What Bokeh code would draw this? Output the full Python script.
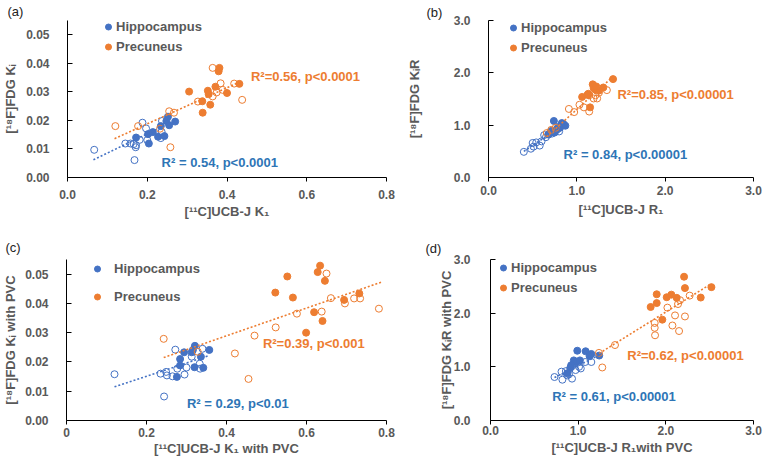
from bokeh.plotting import figure
from bokeh.layouts import column, row
from bokeh.models import Range1d, FixedTicker, Label, Legend, LegendItem
from bokeh.embed import file_html
from bokeh.resources import INLINE

FONT = "Liberation Sans"
BLUE = "#4472C4"
ORANGE = "#ED7D31"
BLUE_TXT = "#2E75B6"
ORANGE_TXT = "#ED7D31"
GRAY = "#595959"

# ---------------- data ----------------
# (a) K1 vs Ki
a_hip_fill_x = [0.172, 0.202, 0.204, 0.214, 0.227, 0.234, 0.243, 0.248, 0.252, 0.255, 0.270]
a_hip_fill_y = [0.0140, 0.0152, 0.0119, 0.0159, 0.0143, 0.0180, 0.0145, 0.0198, 0.0213, 0.0183, 0.0196]
a_hip_open_x = [0.067, 0.145, 0.158, 0.166, 0.171, 0.168, 0.172, 0.181, 0.188, 0.197, 0.200, 0.234, 0.236, 0.237]
a_hip_open_y = [0.0097, 0.0119, 0.0119, 0.0117, 0.0106, 0.0061, 0.0113, 0.0132, 0.0192, 0.0172, 0.0131, 0.0138, 0.0160, 0.0198]
a_pre_fill_x = [0.305, 0.338, 0.339, 0.352, 0.354, 0.358, 0.371, 0.379, 0.381, 0.400, 0.431]
a_pre_fill_y = [0.0301, 0.0267, 0.0227, 0.0304, 0.0292, 0.0255, 0.0318, 0.0372, 0.0384, 0.0296, 0.0328]
a_pre_open_x = [0.120, 0.177, 0.232, 0.255, 0.258, 0.267, 0.327, 0.364, 0.364, 0.374, 0.384, 0.389, 0.418, 0.438]
a_pre_open_y = [0.0180, 0.0180, 0.0171, 0.0232, 0.0106, 0.0227, 0.0266, 0.0384, 0.0284, 0.0298, 0.0330, 0.0307, 0.0329, 0.0272]
a_hip_trend_x = [0.065, 0.270]
a_hip_trend_y = [0.0062, 0.0200]
a_pre_trend_x = [0.118, 0.437]
a_pre_trend_y = [0.0136, 0.0338]

# (b) R1 vs KiR
b_hip_fill_x = [0.74, 0.87, 0.83, 0.81, 0.71, 0.78, 0.74, 0.68, 0.85, 0.76, 0.80]
b_hip_fill_y = [1.08, 0.99, 1.04, 0.95, 0.89, 0.94, 0.86, 0.82, 1.02, 0.90, 0.97]
b_hip_open_x = [0.40, 0.48, 0.51, 0.50, 0.54, 0.58, 0.60, 0.63, 0.65, 0.68, 0.80, 0.75, 0.72, 0.78]
b_hip_open_y = [0.49, 0.55, 0.59, 0.66, 0.67, 0.61, 0.69, 0.81, 0.77, 0.83, 0.88, 0.86, 0.84, 0.92]
b_pre_fill_x = [1.41, 1.30, 1.18, 1.21, 1.25, 1.06, 1.13, 1.15, 1.19, 1.22, 1.12]
b_pre_fill_y = [1.88, 1.72, 1.78, 1.68, 1.66, 1.54, 1.60, 1.34, 1.71, 1.74, 1.58]
b_pre_open_x = [0.91, 0.97, 1.03, 1.08, 1.14, 1.14, 1.19, 1.23, 1.21, 1.34, 1.25, 0.71, 0.76, 0.66]
b_pre_open_y = [1.31, 1.25, 1.39, 1.34, 1.26, 1.57, 1.51, 1.51, 1.57, 1.67, 1.62, 0.91, 0.95, 0.85]
b_hip_trend_x = [0.40, 0.87]
b_hip_trend_y = [0.50, 1.03]
b_pre_trend_x = [0.66, 1.41]
b_pre_trend_y = [0.78, 1.93]

# (c) K1 vs Ki with PVC
c_hip_fill_x = [0.276, 0.284, 0.284, 0.294, 0.313, 0.320, 0.321, 0.316, 0.336, 0.342, 0.357]
c_hip_fill_y = [0.0149, 0.0188, 0.0210, 0.0233, 0.0233, 0.0182, 0.0255, 0.0241, 0.0218, 0.0180, 0.0241]
c_hip_open_x = [0.120, 0.235, 0.244, 0.249, 0.251, 0.265, 0.272, 0.277, 0.295, 0.300, 0.313, 0.333, 0.334, 0.340]
c_hip_open_y = [0.0158, 0.0160, 0.0082, 0.0166, 0.0154, 0.0151, 0.0242, 0.0177, 0.0157, 0.0181, 0.0218, 0.0194, 0.0177, 0.0245]
c_pre_fill_x = [0.522, 0.552, 0.566, 0.599, 0.619, 0.628, 0.634, 0.640, 0.646, 0.694, 0.732]
c_pre_fill_y = [0.0437, 0.0492, 0.0420, 0.0300, 0.0370, 0.0507, 0.0529, 0.0340, 0.0477, 0.0412, 0.0434]
c_pre_open_x = [0.243, 0.328, 0.421, 0.455, 0.470, 0.523, 0.576, 0.638, 0.650, 0.661, 0.696, 0.719, 0.734, 0.781]
c_pre_open_y = [0.0279, 0.0235, 0.0229, 0.0142, 0.0290, 0.0318, 0.0365, 0.0372, 0.0502, 0.0418, 0.0400, 0.0417, 0.0417, 0.0382]
c_hip_trend_x = [0.120, 0.357]
c_hip_trend_y = [0.0115, 0.0222]
c_pre_trend_x = [0.243, 0.790]
c_pre_trend_y = [0.0215, 0.0474]

# (d) R1 vs KiR with PVC
d_hip_fill_x = [0.99, 1.085, 1.13, 1.15, 1.24, 0.95, 0.98, 1.02, 0.92, 0.91, 0.875]
d_hip_fill_y = [1.30, 1.29, 1.20, 1.24, 1.21, 1.12, 1.09, 1.12, 1.03, 0.98, 0.88]
d_hip_open_x = [0.73, 0.82, 0.81, 0.86, 0.895, 0.93, 0.97, 1.01, 1.08, 1.15, 0.875, 1.03, 0.93, 0.96]
d_hip_open_y = [0.81, 0.76, 0.91, 0.92, 0.86, 0.78, 0.94, 1.00, 1.09, 1.09, 0.84, 0.97, 1.01, 1.06]
d_pre_fill_x = [1.827, 1.896, 1.896, 1.960, 2.010, 2.063, 2.124, 2.208, 2.218, 2.398, 2.520]
d_pre_fill_y = [2.115, 2.188, 2.352, 1.879, 2.297, 2.345, 2.285, 2.679, 2.467, 2.291, 2.485]
d_pre_open_x = [1.873, 1.873, 1.877, 2.018, 2.075, 2.105, 2.151, 2.218, 2.139, 2.162, 2.272, 1.420, 1.237, 1.275]
d_pre_open_y = [1.818, 1.727, 1.588, 2.103, 1.770, 1.958, 1.667, 1.939, 2.170, 2.242, 2.327, 1.406, 1.260, 0.988]
d_hip_trend_x = [0.73, 1.24]
d_hip_trend_y = [0.80, 1.22]
d_pre_trend_x = [1.24, 2.52]
d_pre_trend_y = [1.25, 2.55]

# ticks
k_x_ticks = [0.0, 0.2, 0.4, 0.6, 0.8]
a_x_labels = ["0.0", "0.2", "0.4", "0.6", "0.8"]
c_x_labels = ["0", "0.2", "0.4", "0.6", "0.8"]
k_y_ticks = [0.0, 0.01, 0.02, 0.03, 0.04, 0.05]
k_y_labels = ["0.00", "0.01", "0.02", "0.03", "0.04", "0.05"]
r_ticks = [0.0, 1.0, 2.0, 3.0]
r_labels = ["0.0", "1.0", "2.0", "3.0"]

legend_labels = ["Hippocampus", "Precuneus"]
panel_tags = ["(a)", "(b)", "(c)", "(d)"]

# axis titles
a_xlabel = "[¹¹C]UCB-J K₁"
a_ylabel = "[¹⁸F]FDG Kᵢ"
b_xlabel = "[¹¹C]UCB-J R₁"
b_ylabel = "[¹⁸F]FDG KᵢR"
c_xlabel = "[¹¹C]UCB-J K₁ with PVC"
c_ylabel = "[¹⁸F]FDG Kᵢ with PVC"
d_xlabel = "[¹¹C]UCB-J R₁with PVC"
d_ylabel = "[¹⁸F]FDG KᵢR with PVC"

a_stats = ["R² = 0.54, p<0.0001", "R²=0.56, p<0.0001"]
b_stats = ["R² = 0.84, p<0.00001", "R²=0.85, p<0.00001"]
c_stats = ["R² = 0.29, p<0.01", "R²=0.39, p<0.001"]
d_stats = ["R² = 0.61, p<0.00001", "R²=0.62, p<0.00001"]


def make_panel(width, height, borders, xr, yr, xticks, xlabels, yticks, ylabels,
               xlabel, ylabel, x_std, x_title_std, y_std, y_title_std,
               tag, tag_offset, tag_standoff):
    bl, br, bt, bb = borders
    p = figure(width=width, height=height, x_range=Range1d(*xr), y_range=Range1d(*yr),
               output_backend="svg", toolbar_location=None,
               min_border_left=bl, min_border_right=br, min_border_top=bt, min_border_bottom=bb)
    p.outline_line_color = None
    p.xgrid.visible = False
    p.ygrid.visible = False
    p.background_fill_color = None
    p.border_fill_color = None
    p.title.text = tag
    p.title.align = "left"
    p.title.offset = tag_offset
    p.title.standoff = tag_standoff
    p.title.text_font = FONT
    p.title.text_font_size = "13px"
    p.title.text_font_style = "normal"
    p.title.text_color = "#222222"
    for ax, ticks, labels in ((p.xaxis[0], xticks, xlabels), (p.yaxis[0], yticks, ylabels)):
        ax.ticker = FixedTicker(ticks=ticks)
        ax.major_label_overrides = {t: l for t, l in zip(ticks, labels)}
        ax.minor_tick_line_color = None
        ax.axis_line_color = "black"
        ax.major_tick_line_color = "black"
        ax.major_label_text_font = FONT
        ax.major_label_text_font_size = "12px"
        ax.major_label_text_font_style = "bold"
        ax.major_label_text_color = GRAY
        ax.axis_label_text_font = FONT
        ax.axis_label_text_font_size = "13px"
        ax.axis_label_text_font_style = "bold"
        ax.axis_label_text_color = GRAY
    p.xaxis.major_tick_out = 4
    p.xaxis.major_tick_in = 0
    p.yaxis.major_tick_out = 0
    p.yaxis.major_tick_in = 5
    p.xaxis.axis_label = xlabel
    p.yaxis.axis_label = ylabel
    p.xaxis.major_label_standoff = x_std
    p.xaxis.axis_label_standoff = x_title_std
    p.yaxis.major_label_standoff = y_std
    p.yaxis.axis_label_standoff = y_title_std
    return p


def add_series(p, hf, ho, pf, po, ht, pt):
    rh = p.scatter(hf[0], hf[1], size=7, marker="circle", fill_color=BLUE, line_color=BLUE)
    p.scatter(ho[0], ho[1], size=7, marker="circle", fill_color=None, line_color=BLUE, line_width=1)
    rp = p.scatter(pf[0], pf[1], size=7, marker="circle", fill_color=ORANGE, line_color=ORANGE)
    p.scatter(po[0], po[1], size=7, marker="circle", fill_color=None, line_color=ORANGE, line_width=1)
    p.line(ht[0], ht[1], line_color=BLUE, line_width=1.6, line_dash="2 2")
    p.line(pt[0], pt[1], line_color=ORANGE, line_width=1.6, line_dash="2 2")
    return rh, rp


def add_legend(p, rh, rp, loc, spacing, standoff):
    leg = Legend(items=[LegendItem(label=legend_labels[0], renderers=[rh]),
                        LegendItem(label=legend_labels[1], renderers=[rp])],
                 location=loc, orientation="vertical", padding=0, margin=0,
                 spacing=spacing, glyph_width=16, glyph_height=15, label_height=15,
                 label_standoff=standoff, border_line_color=None, background_fill_alpha=0,
                 label_text_font=FONT, label_text_font_size="13px",
                 label_text_font_style="bold", label_text_color=GRAY)
    p.add_layout(leg)


def add_text(p, x, y, text, color):
    p.add_layout(Label(x=x, y=y, text=text, text_color=color, text_font=FONT,
                       text_font_size="13px", text_font_style="bold",
                       text_baseline="middle", text_align="left"))


# ---------------- panel a ----------------
pa = make_panel(400, 232, (64, 14, 18, 55), (0, 0.8), (0, 0.055), k_x_ticks, a_x_labels,
                k_y_ticks, k_y_labels, a_xlabel, a_ylabel, 8, 2, 18, 5,
                panel_tags[0], -60, 3)
rh, rp = add_series(pa, (a_hip_fill_x, a_hip_fill_y), (a_hip_open_x, a_hip_open_y),
                    (a_pre_fill_x, a_pre_fill_y), (a_pre_open_x, a_pre_open_y),
                    (a_hip_trend_x, a_hip_trend_y), (a_pre_trend_x, a_pre_trend_y))
add_legend(pa, rh, rp, (33, 123), 5, 0)
add_text(pa, 0.236, 0.0051, a_stats[0], BLUE_TXT)
add_text(pa, 0.46, 0.0353, a_stats[1], ORANGE_TXT)

# ---------------- panel b ----------------
pb = make_panel(364, 232, (88, 11, 17, 53), (0, 3), (0, 3), r_ticks, r_labels,
                r_ticks, r_labels, b_xlabel, b_ylabel, 4, 4, 18, 29,
                panel_tags[1], -62, 2)
rh, rp = add_series(pb, (b_hip_fill_x, b_hip_fill_y), (b_hip_open_x, b_hip_open_y),
                    (b_pre_fill_x, b_pre_fill_y), (b_pre_open_x, b_pre_open_y),
                    (b_hip_trend_x, b_hip_trend_y), (b_pre_trend_x, b_pre_trend_y))
add_legend(pb, rh, rp, (17, 122), 5, 0)
add_text(pb, 0.85, 0.43, b_stats[0], BLUE_TXT)
add_text(pb, 1.46, 1.59, b_stats[1], ORANGE_TXT)

# ---------------- panel c ----------------
pc = make_panel(400, 233, (64, 14, 25, 44), (0, 0.8), (0, 0.055), k_x_ticks, c_x_labels,
                k_y_ticks, k_y_labels, c_xlabel, c_ylabel, 3, 1, 18, 4,
                panel_tags[2], -61, 10)
rh, rp = add_series(pc, (c_hip_fill_x, c_hip_fill_y), (c_hip_open_x, c_hip_open_y),
                    (c_pre_fill_x, c_pre_fill_y), (c_pre_open_x, c_pre_open_y),
                    (c_hip_trend_x, c_hip_trend_y), (c_pre_trend_x, c_pre_trend_y))
add_legend(pc, rh, rp, (23, 116), 13, 9)
add_text(pc, 0.301, 0.0059, c_stats[0], BLUE_TXT)
add_text(pc, 0.491, 0.0264, c_stats[1], ORANGE_TXT)

# ---------------- panel d ----------------
pd = make_panel(364, 233, (90, 11, 23, 45), (0, 3), (0, 3), r_ticks, r_labels,
                r_ticks, r_labels, d_xlabel, d_ylabel, 1, 2, 20, -3,
                panel_tags[3], -65, 8)
rh, rp = add_series(pd, (d_hip_fill_x, d_hip_fill_y), (d_hip_open_x, d_hip_open_y),
                    (d_pre_fill_x, d_pre_fill_y), (d_pre_open_x, d_pre_open_y),
                    (d_hip_trend_x, d_hip_trend_y), (d_pre_trend_x, d_pre_trend_y))
add_legend(pd, rh, rp, (5, 125), 5, 0)
add_text(pd, 0.704, 0.44, d_stats[0], BLUE_TXT)
add_text(pd, 1.56, 1.21, d_stats[1], ORANGE_TXT)

layout = column(row(pa, pb), row(pc, pd))

open("out.html", "w").write(file_html(layout, INLINE))
